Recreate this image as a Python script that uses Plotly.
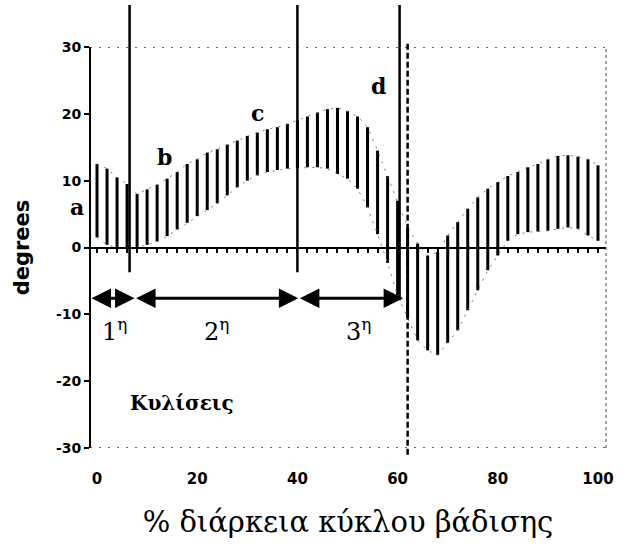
import plotly.graph_objects as go

# Gait cycle (% of stride) sampled every 2 %
pct = list(range(0, 101, 2))

# Upper and lower limits of the joint-angle band (degrees)
upper = [12.5, 11.8, 10.5, 9.5, 8.0, 8.7, 9.4, 10.3, 11.3, 12.5,
         13.2, 14.2, 14.7, 15.4, 16.0, 16.7, 17.2, 17.7, 18.0, 18.5,
         19.0, 19.6, 20.2, 20.7, 20.9, 20.4, 19.6, 18.0, 14.5, 10.7,
         7.0, 3.0, 0.6, -1.2, -0.7, 1.8, 3.8, 5.8, 7.5, 8.8,
         9.8, 10.7, 11.3, 12.0, 12.5, 13.2, 13.7, 13.8, 13.6, 13.2,
         12.3]
lower = [1.5, 0.4, 0.0, -0.2, 0.0, 0.4, 0.9, 1.7, 2.7, 3.7,
         4.7, 5.6, 6.6, 7.8, 9.0, 10.0, 10.8, 11.3, 11.6, 11.8,
         11.9, 12.0, 12.0, 11.8, 11.0, 10.3, 8.8, 6.0, 2.0, -2.3,
         -7.2, -10.5, -13.9, -15.4, -16.1, -14.3, -12.4, -9.4, -6.4, -3.4,
         -1.2, 1.0, 2.0, 2.3, 2.4, 2.5, 2.8, 3.0, 2.8, 1.8,
         1.0]

x_ticks = [0, 20, 40, 60, 80, 100]
y_ticks = [-30, -20, -10, 0, 10, 20, 30]
y_tick_text = ["-30", "-20", "-10", "0", "10", "20", "30"]

X_RANGE = [-1.4, 101.6]
Y_RANGE = [-30, 30]

# Rocker phases (double arrows) and their labels
phase_bounds = [-1.4, 7.5, 40.2, 61.1]
phase_arrow_y = -7.6
phase_labels = ["1<sup>η</sup>", "2<sup>η</sup>", "3<sup>η</sup>"]
phase_label_x = [3.5, 23.8, 52.2]
phase_label_y = -12.4

# Event markers: solid lines (with their lower ends) and toe-off (dashed)
event_x = [6.5, 40.0, 60.4]
event_bottom = [-3.7, -3.7, -7.9]
event_top = 36.3
toe_off_x = 62.0
toe_off_span = [-31.0, 30.8]

# Point letters
point_labels = ["b", "c", "d"]
point_x = [13.4, 32.1, 56.1]
point_y = [13.5, 20.1, 24.1]
a_label_y = 6.0

SANS = "DejaVu Sans"
SERIF = "DejaVu Serif"


def ypaper(v):
    return (v - Y_RANGE[0]) / (Y_RANGE[1] - Y_RANGE[0])


# vertical hatching: one segment per sample, lower -> upper
bar_x, bar_y = [], []
for p, lo, hi in zip(pct, lower, upper):
    bar_x += [p, p, None]
    bar_y += [lo, hi, None]

fig = go.Figure()
fig.add_trace(go.Scatter(
    x=pct, y=upper, mode="lines", xaxis="x2",
    line=dict(color="#777", width=1, dash="2px,6px"), hoverinfo="skip"))
fig.add_trace(go.Scatter(
    x=pct, y=lower, mode="lines", xaxis="x2",
    line=dict(color="#777", width=1, dash="2px,6px"), hoverinfo="skip"))
fig.add_trace(go.Scatter(
    x=bar_x, y=bar_y, mode="lines",
    line=dict(color="black", width=3), hoverinfo="skip"))

shapes = []
# y axis line
shapes.append(dict(type="line", xref="paper", yref="y", x0=0, x1=0,
                   y0=Y_RANGE[0], y1=Y_RANGE[1], line=dict(color="black", width=2)))
# dotted top / bottom borders and right border
for yv in (Y_RANGE[0], Y_RANGE[1]):
    shapes.append(dict(type="line", xref="paper", yref="y", x0=0, x1=1,
                       y0=yv, y1=yv, line=dict(color="#333", width=1.5, dash="2px,7px")))
shapes.append(dict(type="line", xref="paper", yref="y", x0=1, x1=1,
                   y0=Y_RANGE[0], y1=Y_RANGE[1], line=dict(color="#444", width=1, dash="3px,3px")))
# event lines
for xv, yb in zip(event_x, event_bottom):
    shapes.append(dict(type="line", xref="x", yref="paper", x0=xv, x1=xv,
                       y0=ypaper(yb), y1=ypaper(event_top),
                       line=dict(color="black", width=2.5)))
shapes.append(dict(type="line", xref="x", yref="paper", x0=toe_off_x, x1=toe_off_x,
                   y0=ypaper(toe_off_span[0]), y1=ypaper(toe_off_span[1]),
                   line=dict(color="black", width=2.5, dash="6px,3px")))

annotations = []
# double-headed phase arrows
for i in range(3):
    annotations.append(dict(
        x=phase_bounds[i + 1], y=phase_arrow_y, ax=phase_bounds[i], ay=phase_arrow_y,
        xref="x", yref="y", axref="x", ayref="y", text="", showarrow=True,
        arrowhead=2, startarrowhead=2, arrowside="end+start",
        arrowwidth=3, arrowsize=1.3, startarrowsize=1.3,
        arrowcolor="black", standoff=0, startstandoff=0))
    annotations.append(dict(
        x=phase_label_x[i], y=phase_label_y, xref="x", yref="y",
        text=phase_labels[i], showarrow=False,
        font=dict(family=SERIF, size=24, color="black")))

for t, xv, yv in zip(point_labels, point_x, point_y):
    annotations.append(dict(x=xv, y=yv, xref="x", yref="y", text=t, showarrow=False,
                            font=dict(family=SERIF, size=22, color="black", weight="bold")))
annotations.append(dict(x=-0.042, y=a_label_y, xref="paper", yref="y", text="a",
                        showarrow=False,
                        font=dict(family=SERIF, size=22, color="black", weight="bold")))
annotations.append(dict(x=16.9, y=-23.2, xref="x", yref="y", text="Κυλίσεις",
                        showarrow=False,
                        font=dict(family=SERIF, size=20, color="black", weight="bold")))

fig.update_layout(
    width=626, height=547,
    margin=dict(l=90, r=13, t=47, b=99),
    paper_bgcolor="white", plot_bgcolor="white",
    showlegend=False,
    shapes=shapes,
    annotations=annotations,
    xaxis=dict(
        range=X_RANGE, tickvals=x_ticks, ticks="", showline=False, showgrid=False,
        zeroline=False, ticklabelstandoff=20,
        tickfont=dict(family=SANS, size=15, color="black", weight="bold"),
        title=dict(text="% διάρκεια κύκλου βάδισης", standoff=24,
                   font=dict(family=SERIF, size=29, color="black")),
    ),
    xaxis2=dict(
        range=X_RANGE, overlaying="x", anchor="free", position=0.5,
        showline=True, linecolor="black", linewidth=2,
        ticks="outside", tick0=0, dtick=2, ticklen=4, tickwidth=1.5, tickcolor="black",
        showticklabels=False, showgrid=False, zeroline=False,
    ),
    yaxis=dict(
        range=Y_RANGE, tickvals=y_ticks, ticktext=y_tick_text, ticks="outside",
        ticklen=5, tickwidth=2,
        tickcolor="black", showline=False, showgrid=False, zeroline=False,
        tickfont=dict(family=SANS, size=14, color="black", weight="bold"),
        title=dict(text="degrees", standoff=20,
                   font=dict(family=SANS, size=21, color="black", weight="bold")),
    ),
)

fig.write_html("out.html")
